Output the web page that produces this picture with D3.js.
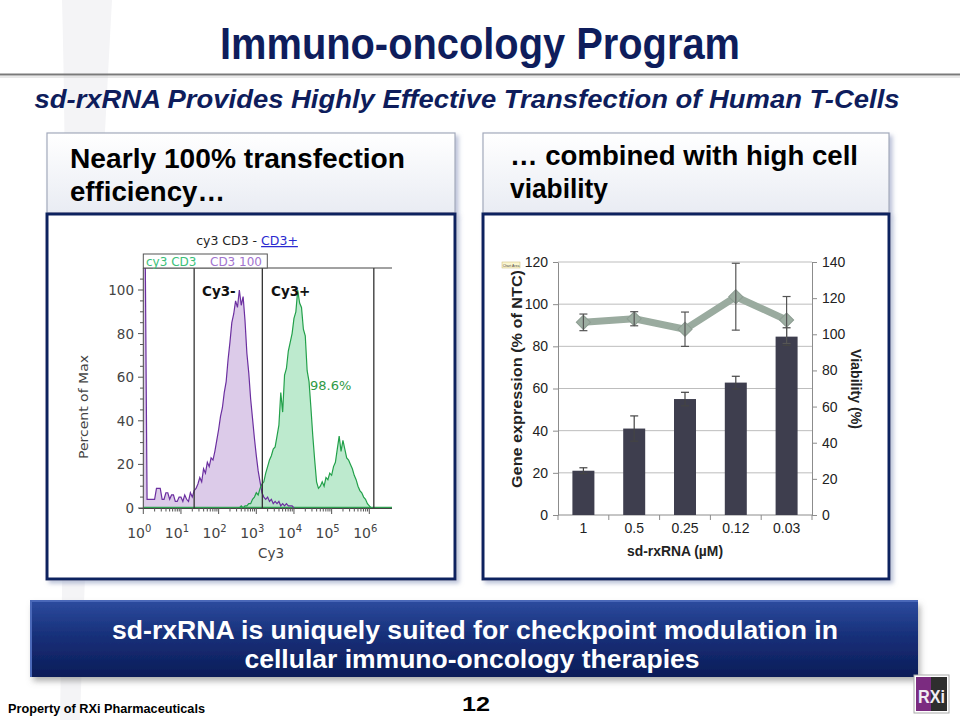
<!DOCTYPE html>
<html><head><meta charset="utf-8">
<script src="https://cdn.jsdelivr.net/npm/d3@7"></script>
<style>body{margin:0;background:#fff}svg{display:block}</style>
</head><body><svg id="s" width="960" height="720"></svg>
<script>
// ---------------- DATA ----------------
// Right chart: gene expression (bars, left axis) and viability (line, right axis)
const conc = ["1", "0.5", "0.25", "0.12", "0.03"];
const geneExpr = [21, 41, 55, 62.8, 84.6];
const geneErr = [1.4, 6, 3.2, 3, 4.2];
const viability = [106.6, 108.6, 102.8, 120.8, 107.9];
const viabErr = [4.6, 3.9, 9.5, 18.5, 13];
const leftTicks = [0, 20, 40, 60, 80, 100, 120];
const rightTicks = [0, 20, 40, 60, 80, 100, 120, 140];

// Left chart: flow cytometry histograms (log10 exponent bins, step 0.05)
const binStep = 0.05;
const cd3Start = 0;      // "CD3 100" (unstained) first bin exponent
const cd3Control = [120,120,4,4,4,4,4,9,9,9,4,4,7,7,4,6,6,3,3,5,5,3,6,4,3,7,5,8,9,11,14,12,18,16,21,19,23,22,26,31,36,42,46,53,58,68,76,85,89,95,92,100,93,97,86,71,62,50,41,32,24,17,12,7,5,4,5,3,4,2,3,2,3,1,2,1,2,1,1,1,0];
const cy3Start = 2.5;    // "cy3 CD3" (stained) first bin exponent
const cy3Stained = [0,0,1,0,1,1,2,2,4,5,7,6,9,11,12,16,19,22,24,27,28,33,38,53,44,61,64,72,76,80,87,90,100,94,92,82,79,63,58,46,33,22,12,9,10,12,10,14,13,16,15,19,21,27,33,26,31,27,23,22,20,18,15,13,10,8,7,5,4,2,1,0];
const gateExps = [1.35, 3.16, 6.12];
const decadeTicks = [0, 1, 2, 3, 4, 5, 6];
const pctTicks = [0, 20, 40, 60, 80, 100];
const positivePct = "98.6%";

// ---------------- SETUP ----------------
const svg = d3.select("#s");
const FF = "Liberation Sans, Arial, Helvetica, sans-serif";
const NAVY = "#0e1d5c";
const defs = svg.append("defs");

function T(x, y, s, o = {}) {
  const t = (o.parent || svg).append("text").attr("x", x).attr("y", y).text(s)
    .attr("font-family", o.ff || FF).attr("font-size", o.fs || 14)
    .attr("font-weight", o.fw || "normal").attr("fill", o.fill || "#000")
    .attr("text-anchor", o.anchor || "start");
  if (o.style) t.attr("font-style", o.style);
  if (o.len) t.attr("textLength", o.len).attr("lengthAdjust", "spacingAndGlyphs");
  if (o.rot) t.attr("transform", `rotate(${o.rot},${x},${y})`);
  return t;
}

// gradients & filters
const hg = defs.append("linearGradient").attr("id", "hdr").attr("x1", 0).attr("y1", 0).attr("x2", 0).attr("y2", 1);
hg.append("stop").attr("offset", "0%").attr("stop-color", "#ffffff");
hg.append("stop").attr("offset", "100%").attr("stop-color", "#e9ecf3");
const bg = defs.append("linearGradient").attr("id", "ban").attr("x1", 0).attr("y1", 0).attr("x2", 0).attr("y2", 1);
bg.append("stop").attr("offset", "0%").attr("stop-color", "#2d4b9e");
bg.append("stop").attr("offset", "45%").attr("stop-color", "#17307a");
bg.append("stop").attr("offset", "100%").attr("stop-color", "#0c1c58");
const sh = defs.append("filter").attr("id", "sh").attr("x", "-10%").attr("y", "-10%").attr("width", "130%").attr("height", "130%");
sh.append("feDropShadow").attr("dx", 3).attr("dy", 3).attr("stdDeviation", 2).attr("flood-color", "#8f9bbf").attr("flood-opacity", 0.6);
const sh2 = defs.append("filter").attr("id", "sh2").attr("x", "-10%").attr("y", "-20%").attr("width", "130%").attr("height", "150%");
sh2.append("feDropShadow").attr("dx", 2).attr("dy", 4).attr("stdDeviation", 3).attr("flood-color", "#777").attr("flood-opacity", 0.6);
defs.append("clipPath").attr("id", "hclip").append("rect").attr("x", 143.3).attr("y", 268).attr("width", 249).attr("height", 240);

// watermark
svg.append("path").attr("d", "M62,0 L112,0 C100,220 88,470 80,720 L60,720 C64,470 68,220 62,0 Z").attr("fill", "#f4f4f6");

// ---------------- HEADER ----------------
T(480, 59, "Immuno-oncology Program", { fs: 44, fw: "bold", fill: NAVY, anchor: "middle", len: 520 });
svg.append("line").attr("x1", 0).attr("x2", 960).attr("y1", 74.5).attr("y2", 74.5).attr("stroke", "#7a7a7a").attr("stroke-width", 2);
svg.append("line").attr("x1", 0).attr("x2", 960).attr("y1", 77).attr("y2", 77).attr("stroke", "#d2d2d2").attr("stroke-width", 1);
T(467, 108, "sd-rxRNA Provides Highly Effective Transfection of Human T-Cells", { fs: 26, fw: "bold", style: "italic", fill: NAVY, anchor: "middle", len: 865 });

// header boxes & panels
[[47, 455], [483, 889]].forEach(([x0, x1]) => {
  svg.append("rect").attr("x", x0).attr("y", 133).attr("width", x1 - x0).attr("height", 80)
    .attr("fill", "url(#hdr)").attr("stroke", "#a3aabb").attr("stroke-width", 1.2).attr("filter", "url(#sh)");
  svg.append("rect").attr("x", x0).attr("y", 214).attr("width", x1 - x0).attr("height", 365)
    .attr("fill", "#fff").attr("stroke", "#10225e").attr("stroke-width", 3).attr("filter", "url(#sh)");
});
T(70, 168, "Nearly 100% transfection", { fs: 27, fw: "bold", len: 335 });
T(70, 201, "efficiency…", { fs: 27, fw: "bold", len: 155 });
T(510, 165, "… combined with high cell", { fs: 27, fw: "bold", len: 348 });
T(510, 198, "viability", { fs: 27, fw: "bold", len: 98 });

// ---------------- LEFT: HISTOGRAM ----------------
const xH = d3.scaleLog().domain([1, 1e6]).range([143.3, 369.3]);
const yH = d3.scaleLinear().domain([0, 100]).range([508, 290]);
const HF = "DejaVu Sans, Liberation Sans, sans-serif";
const toBins = (arr, start) => arr.map((v, i) => ({ e: start + i * binStep, v }));
const purple = toBins(cd3Control, cd3Start);
const green = toBins(cy3Stained, cy3Start);
const hx = d => xH(Math.pow(10, d.e));
const hArea = d3.area().x(hx).y0(yH(0)).y1(d => yH(d.v));
const hLine = d3.line().x(hx).y(d => yH(d.v));
const hg2 = svg.append("g").attr("clip-path", "url(#hclip)");
hg2.append("path").datum(purple).attr("d", hArea).attr("fill", "#dccbe9");
hg2.append("path").datum(green).attr("d", hArea).attr("fill", "#b2e6c6").attr("fill-opacity", 0.85);
hg2.append("line").attr("x1", 143.3).attr("x2", 392).attr("y1", yH(0) - 0.5).attr("y2", yH(0) - 0.5).attr("stroke", "#2fa050").attr("stroke-width", 1.3);
hg2.append("path").datum(purple).attr("d", hLine).attr("fill", "none").attr("stroke", "#6b2fa0").attr("stroke-width", 1.2);
hg2.append("path").datum(green).attr("d", hLine).attr("fill", "none").attr("stroke", "#22a04a").attr("stroke-width", 1.2);

// gates
svg.selectAll(".gate").data(gateExps).join("line")
  .attr("x1", d => xH(Math.pow(10, d))).attr("x2", d => xH(Math.pow(10, d)))
  .attr("y1", 268).attr("y2", 508).attr("stroke", "#333").attr("stroke-width", 1.3);
// frame
svg.append("line").attr("x1", 143.3).attr("x2", 392).attr("y1", 268).attr("y2", 268).attr("stroke", "#444");
svg.append("line").attr("x1", 143.3).attr("x2", 143.3).attr("y1", 268).attr("y2", 509).attr("stroke", "#444");
svg.append("line").attr("x1", 139).attr("x2", 392).attr("y1", 508.5).attr("y2", 508.5).attr("stroke", "#444");
// y ticks
svg.selectAll(".ymin").data(d3.range(0, 110, 5)).join("line")
  .attr("x1", d => d % 20 === 0 ? 138 : 140).attr("x2", 143.3).attr("y1", d => yH(d)).attr("y2", d => yH(d)).attr("stroke", "#555");
svg.selectAll(".ylab").data(pctTicks).join("text").attr("x", 134).attr("y", d => yH(d) + 5).text(d => d)
  .attr("font-family", HF).attr("font-size", 13.5).attr("fill", "#444").attr("text-anchor", "end");
// x ticks
const minorX = [];
decadeTicks.forEach(k => { if (k < 6) for (let m = 2; m <= 9; m++) minorX.push(m * Math.pow(10, k)); });
svg.selectAll(".xmin").data(minorX).join("line").attr("x1", d => xH(d)).attr("x2", d => xH(d))
  .attr("y1", 508).attr("y2", 511.5).attr("stroke", "#555");
svg.selectAll(".xmaj").data(decadeTicks).join("line").attr("x1", d => xH(Math.pow(10, d))).attr("x2", d => xH(Math.pow(10, d)))
  .attr("y1", 508).attr("y2", 514).attr("stroke", "#555");
const xl = svg.selectAll(".xlab").data(decadeTicks).join("text")
  .attr("x", d => xH(Math.pow(10, d)) - 4).attr("y", 538).attr("text-anchor", "middle")
  .attr("font-family", HF).attr("font-size", 14).attr("fill", "#444");
xl.append("tspan").text("10");
xl.append("tspan").attr("dy", -6).attr("font-size", 10).text(d => d);
// labels
const ht = T(247, 245, "", { ff: HF, fs: 12.5, fill: "#222", anchor: "middle" });
ht.append("tspan").text("cy3 CD3 - ");
ht.append("tspan").text("CD3+ ").attr("fill", "#2a2ad0").attr("text-decoration", "underline");
svg.append("rect").attr("x", 143.3).attr("y", 254).attr("width", 124).attr("height", 14).attr("fill", "#fff").attr("stroke", "#555");
T(146, 265.5, "cy3 CD3", { ff: HF, fs: 12, fill: "#3cbf7a" });
T(210, 265.5, "CD3 100", { ff: HF, fs: 12, fill: "#a274cf" });
T(202, 296, "Cy3-", { ff: HF, fs: 13.5, fw: "bold", fill: "#111" });
T(271, 296, "Cy3+", { ff: HF, fs: 13.5, fw: "bold", fill: "#111" });
T(310, 390, positivePct, { ff: HF, fs: 13, fill: "#2f9a46" });
T(271, 558, "Cy3", { ff: HF, fs: 13.5, fill: "#444", anchor: "middle" });
T(88, 407, "Percent of Max", { ff: HF, fs: 13, fill: "#444", anchor: "middle", rot: -90, len: 104 });

// ---------------- RIGHT: BAR + LINE ----------------
const xB = d3.scaleBand().domain(conc).range([558, 812]).paddingInner(0.567).paddingOuter(0.2835);
const yL = d3.scaleLinear().domain([0, 120]).range([515, 262]);
const yR = d3.scaleLinear().domain([0, 140]).range([515, 262]);
const cx = c => xB(c) + xB.bandwidth() / 2;

svg.selectAll(".grid").data(leftTicks.slice(1)).join("line")
  .attr("x1", 558).attr("x2", 812).attr("y1", d => yL(d)).attr("y2", d => yL(d)).attr("stroke", "#bdbdbd");

function styleAxis(g) {
  g.select(".domain").attr("stroke", "#8c8c8c");
  g.selectAll(".tick line").attr("stroke", "#8c8c8c");
  g.selectAll(".tick text").attr("font-family", FF).attr("font-size", 14).attr("fill", "#222");
}
svg.append("g").attr("transform", "translate(558,0)")
  .call(d3.axisLeft(yL).tickValues(leftTicks).tickSize(5).tickSizeOuter(0).tickPadding(5)).call(styleAxis);
svg.append("g").attr("transform", "translate(812,0)")
  .call(d3.axisRight(yR).tickValues(rightTicks).tickSize(5).tickSizeOuter(0).tickPadding(5)).call(styleAxis);
// x axis
svg.append("line").attr("x1", 558).attr("x2", 812).attr("y1", 515).attr("y2", 515).attr("stroke", "#8c8c8c");
const bounds = conc.map(c => xB(c) - xB.step() * xB.paddingInner() / 2).concat([812]);
svg.selectAll(".xb").data(bounds).join("line").attr("x1", d => d).attr("x2", d => d).attr("y1", 515).attr("y2", 520).attr("stroke", "#8c8c8c");
svg.selectAll(".xbl").data(conc).join("text").attr("x", cx).attr("y", 533).text(d => d)
  .attr("font-family", FF).attr("font-size", 14).attr("fill", "#222").attr("text-anchor", "middle");

// bars
svg.selectAll(".bar").data(conc).join("rect")
  .attr("x", d => xB(d)).attr("width", xB.bandwidth())
  .attr("y", (d, i) => yL(geneExpr[i])).attr("height", (d, i) => yL(0) - yL(geneExpr[i]))
  .attr("fill", "#3e3e4e");
function errBars(vals, errs, scale, color) {
  conc.forEach((c, i) => {
    const x = cx(c), y1 = scale(vals[i] + errs[i]), y2 = scale(vals[i] - errs[i]);
    svg.append("line").attr("x1", x).attr("x2", x).attr("y1", y1).attr("y2", y2).attr("stroke", color).attr("stroke-width", 1.2);
    [y1, y2].forEach(y => svg.append("line").attr("x1", x - 4).attr("x2", x + 4).attr("y1", y).attr("y2", y).attr("stroke", color).attr("stroke-width", 1.2));
  });
}
errBars(geneExpr, geneErr, yL, "#444");

// viability line
svg.append("path").datum(viability).attr("d", d3.line().x((d, i) => cx(conc[i])).y(d => yR(d)))
  .attr("fill", "none").attr("stroke", "#9aab9f").attr("stroke-width", 7).attr("stroke-linejoin", "round");
svg.selectAll(".mk").data(viability).join("path")
  .attr("d", d3.symbol(d3.symbolSquare, 100))
  .attr("transform", (d, i) => `translate(${cx(conc[i])},${yR(d)}) rotate(45)`)
  .attr("fill", "#9cada1").attr("stroke", "#8d9d92").attr("stroke-width", 1);
errBars(viability, viabErr, yR, "#555");

// axis titles
T(522, 379, "Gene expression (% of NTC)", { fs: 15, fw: "bold", fill: "#222", anchor: "middle", rot: -90, len: 218 });
T(851, 389, "Viability (%)", { fs: 15, fw: "bold", fill: "#222", anchor: "middle", rot: 90, len: 80 });
T(675, 556, "sd-rxRNA (µM)", { fs: 15, fw: "bold", fill: "#222", anchor: "middle", len: 96 });
// tiny "Chart Area" tooltip
svg.append("rect").attr("x", 502).attr("y", 262).attr("width", 18).attr("height", 6).attr("fill", "#fbf6d0").attr("stroke", "#c9b870").attr("stroke-width", 0.5);
T(511, 266.5, "Chart Area", { fs: 3.5, fill: "#444", anchor: "middle" });

// ---------------- BANNER & FOOTER ----------------
svg.append("rect").attr("x", 31).attr("y", 601).attr("width", 887).attr("height", 76)
  .attr("fill", "url(#ban)").attr("filter", "url(#sh2)");
svg.append("path").attr("d", "M31,677 L31,601 L918,601").attr("fill", "none").attr("stroke", "#4a68b8").attr("stroke-width", 2);
T(475, 639, "sd-rxRNA is uniquely suited for checkpoint modulation in", { fs: 26, fw: "bold", fill: "#fff", anchor: "middle", len: 726 });
T(472, 668, "cellular immuno-oncology therapies", { fs: 26, fw: "bold", fill: "#fff", anchor: "middle", len: 455 });

T(8, 713, "Property of RXi Pharmaceuticals", { fs: 12.5, fw: "bold", len: 197 });
T(476, 711, "12", { fs: 20, fw: "bold", anchor: "middle", len: 28 });
// logo
svg.append("rect").attr("x", 914).attr("y", 675).attr("width", 35).attr("height", 38).attr("fill", "#fff").attr("stroke", "#aaa");
svg.append("rect").attr("x", 916).attr("y", 677).attr("width", 15).attr("height", 34).attr("fill", "#7b2b80");
svg.append("rect").attr("x", 931).attr("y", 677).attr("width", 16).attr("height", 34).attr("fill", "#2e2e2e");
T(918, 703, "RXi", { fs: 19, fw: "bold", fill: "#f0ecf2", len: 27 });
</script></body></html>
